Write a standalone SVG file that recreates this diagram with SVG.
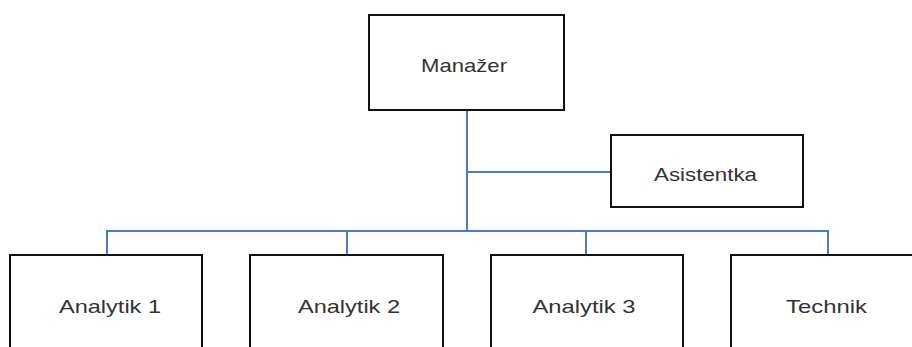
<svg xmlns="http://www.w3.org/2000/svg" width="912" height="347" viewBox="0 0 912 347">
<style>
.box{fill:#fff;stroke:#111;stroke-width:2}
.lbl{font-family:"Liberation Sans",Arial,sans-serif;font-size:19px;fill:#333;text-anchor:middle}
.con{fill:none;stroke:#4a7ebb;stroke-width:2}
</style>
<rect width="912" height="347" fill="#fff"/>
<g id="connectors">
<path class="con" d="M467,110 V231"/>
<path class="con" d="M467,172 H611"/>
<path class="con" d="M107,255 V231 H828 V255"/>
<path class="con" d="M347,231 V255"/>
<path class="con" d="M586,231 V255"/>
</g>
<g id="manazer"><rect class="box" x="369" y="15" width="195" height="95"/><text class="lbl" x="464" y="72" textLength="86" lengthAdjust="spacingAndGlyphs">Manažer</text></g>
<g id="asistentka"><rect class="box" x="611" y="135" width="192" height="72"/><text class="lbl" x="705.5" y="181" textLength="103" lengthAdjust="spacingAndGlyphs">Asistentka</text></g>
<g id="analytik1"><rect class="box" x="10" y="255" width="192" height="100"/><text class="lbl" x="110" y="313" textLength="102" lengthAdjust="spacingAndGlyphs">Analytik 1</text></g>
<g id="analytik2"><rect class="box" x="250" y="255" width="193" height="100"/><text class="lbl" x="349" y="313" textLength="102" lengthAdjust="spacingAndGlyphs">Analytik 2</text></g>
<g id="analytik3"><rect class="box" x="491" y="255" width="192" height="100"/><text class="lbl" x="584" y="313" textLength="103" lengthAdjust="spacingAndGlyphs">Analytik 3</text></g>
<g id="technik"><rect class="box" x="731" y="255" width="193" height="100"/><text class="lbl" x="826.5" y="313" textLength="81" lengthAdjust="spacingAndGlyphs">Technik</text></g>
</svg>
